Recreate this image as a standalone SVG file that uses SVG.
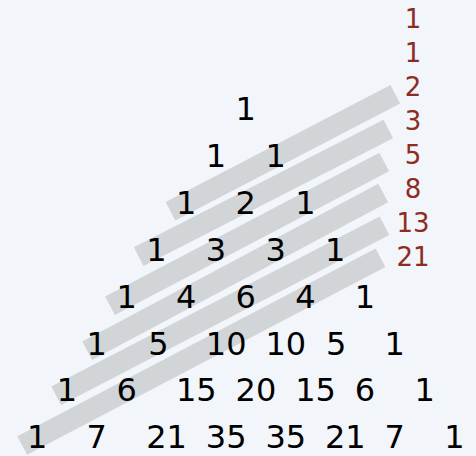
<svg xmlns="http://www.w3.org/2000/svg" width="476" height="456" viewBox="0 0 476 456">
<style>
.bg{fill:#f2f5f9}
.bar{stroke:#d2d5d8;stroke-width:21;stroke-linecap:butt;fill:none}
.p{font-family:"DejaVu Sans",sans-serif;font-size:32px;fill:#000}
.f{font-family:"DejaVu Sans",sans-serif;font-size:26px;fill:#8e2c22;text-anchor:middle}
</style>
<rect class="bg" x="0" y="0" width="476" height="456"/>
<g id="diagonals">
<line class="bar" x1="170.5" y1="211.2" x2="395.3" y2="94.3"/>
<line class="bar" x1="138.7" y1="256.7" x2="388.3" y2="129"/>
<line class="bar" x1="110" y1="305.8" x2="384.2" y2="162"/>
<line class="bar" x1="87.2" y1="350.8" x2="383.2" y2="193"/>
<line class="bar" x1="56.2" y1="395.8" x2="384.5" y2="225.8"/>
<line class="bar" x1="22.3" y1="445.5" x2="380.5" y2="257.8"/>
</g>
<g id="row0"><text class="p" x="235.6" y="120">1</text></g>
<g id="row1"><text class="p" x="205.8" y="167">1</text><text class="p" x="265.4" y="167">1</text></g>
<g id="row2"><text class="p" x="176" y="214">1</text><text class="p" x="235.6" y="214">2</text><text class="p" x="295.2" y="214">1</text></g>
<g id="row3"><text class="p" x="146.2" y="261">1</text><text class="p" x="205.8" y="261">3</text><text class="p" x="265.4" y="261">3</text><text class="p" x="325" y="261">1</text></g>
<g id="row4"><text class="p" x="116.4" y="307.5">1</text><text class="p" x="176" y="307.5">4</text><text class="p" x="235.6" y="307.5">6</text><text class="p" x="295.2" y="307.5">4</text><text class="p" x="354.8" y="307.5">1</text></g>
<g id="row5"><text class="p" x="86.6" y="354.5">1</text><text class="p" x="148.2" y="354.5">5</text><text class="p" x="205.8" y="354.5">10</text><text class="p" x="265.4" y="354.5">10</text><text class="p" x="326" y="354.5">5</text><text class="p" x="384.6" y="354.5">1</text></g>
<g id="row6"><text class="p" x="56.8" y="401.2">1</text><text class="p" x="116.4" y="401.2">6</text><text class="p" x="176" y="401.2">15</text><text class="p" x="235.6" y="401.2">20</text><text class="p" x="295.2" y="401.2">15</text><text class="p" x="354.8" y="401.2">6</text><text class="p" x="414.4" y="401.2">1</text></g>
<g id="row7"><text class="p" x="27" y="448">1</text><text class="p" x="86.6" y="448">7</text><text class="p" x="146.2" y="448">21</text><text class="p" x="205.8" y="448">35</text><text class="p" x="265.4" y="448">35</text><text class="p" x="325" y="448">21</text><text class="p" x="384.6" y="448">7</text><text class="p" x="444.2" y="448">1</text></g>
<g id="fibonacci">
<text class="f" x="413" y="27.5">1</text>
<text class="f" x="413" y="61.5">1</text>
<text class="f" x="413" y="95.5">2</text>
<text class="f" x="413" y="129.5">3</text>
<text class="f" x="413" y="163.5">5</text>
<text class="f" x="413" y="197.5">8</text>
<text class="f" x="413" y="231.5">13</text>
<text class="f" x="413" y="265.5">21</text>
</g>
</svg>
